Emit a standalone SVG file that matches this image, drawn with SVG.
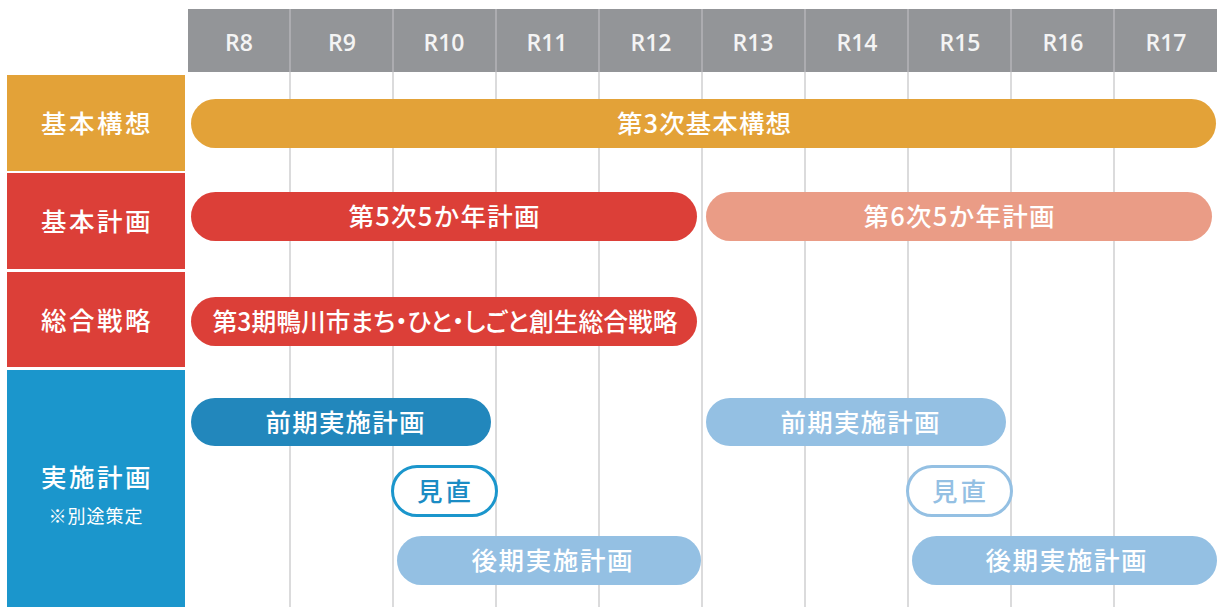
<svg xmlns="http://www.w3.org/2000/svg" width="1217" height="607" viewBox="0 0 1217 607">
<style>
.grid{stroke:#cfcfd0;stroke-width:1.5}
.hdiv{stroke:#b4b5b8;stroke-width:1.5}
.yr{font-family:"Open Sans","Noto Sans",sans-serif;font-weight:600;font-size:23px;fill:#f4f4f4;text-anchor:middle}
.cat{font-family:"Noto Sans CJK JP",sans-serif;font-weight:500;font-size:25.5px;fill:#fff;text-anchor:middle;letter-spacing:2.5px}
.note{font-family:"Noto Sans CJK JP",sans-serif;font-weight:400;font-size:18px;fill:#fff;text-anchor:middle;letter-spacing:1px}
.bl{font-family:"Noto Sans CJK JP",sans-serif;font-weight:500;font-size:25.5px;fill:#fff;text-anchor:middle}
</style>
<rect width="1217" height="607" fill="#fff"/>
<g id="header">
<rect x="188" y="9" width="1029" height="63" fill="#939598"/>
<g class="hdiv">
<line x1="290" y1="9" x2="290" y2="72"/><line x1="393" y1="9" x2="393" y2="72"/><line x1="496" y1="9" x2="496" y2="72"/><line x1="599" y1="9" x2="599" y2="72"/><line x1="702" y1="9" x2="702" y2="72"/><line x1="805" y1="9" x2="805" y2="72"/><line x1="908" y1="9" x2="908" y2="72"/><line x1="1011" y1="9" x2="1011" y2="72"/><line x1="1114" y1="9" x2="1114" y2="72"/>
</g>
<text class="yr" x="239" y="51">R8</text>
<text class="yr" x="342" y="51">R9</text>
<text class="yr" x="444" y="51">R10</text>
<text class="yr" x="547" y="51">R11</text>
<text class="yr" x="651" y="51">R12</text>
<text class="yr" x="753" y="51">R13</text>
<text class="yr" x="857" y="51">R14</text>
<text class="yr" x="960" y="51">R15</text>
<text class="yr" x="1063" y="51">R16</text>
<text class="yr" x="1166" y="51">R17</text>
</g>
<g id="grid" class="grid">
<line x1="290" y1="72" x2="290" y2="607"/><line x1="393" y1="72" x2="393" y2="607"/><line x1="496" y1="72" x2="496" y2="607"/><line x1="599" y1="72" x2="599" y2="607"/><line x1="702" y1="72" x2="702" y2="607"/><line x1="805" y1="72" x2="805" y2="607"/><line x1="908" y1="72" x2="908" y2="607"/><line x1="1011" y1="72" x2="1011" y2="607"/><line x1="1114" y1="72" x2="1114" y2="607"/>
</g>
<g id="cat-kihonkoso">
<rect x="7" y="75" width="178" height="96" fill="#e3a238"/>
<text class="cat" x="97" y="133">基本構想</text>
</g>
<g id="cat-kihonkeikaku">
<rect x="7" y="173" width="178" height="96" fill="#dc3f38"/>
<text class="cat" x="97" y="231">基本計画</text>
</g>
<g id="cat-sogosenryaku">
<rect x="7" y="272" width="178" height="95" fill="#dc3f38"/>
<text class="cat" x="97" y="330">総合戦略</text>
</g>
<g id="cat-jisshikeikaku">
<rect x="7" y="370" width="178" height="237" fill="#1b96cc"/>
<text class="cat" x="97" y="487">実施計画</text>
<text class="note" x="96" y="523">※別途策定</text>
</g>
<g id="bar-koso3">
<rect x="191" y="99" width="1025" height="49" rx="24.5" fill="#e3a238"/>
<text class="bl" x="704" y="133" textLength="174" lengthAdjust="spacing">第3次基本構想</text>
</g>
<g id="bar-keikaku5">
<rect x="191" y="192" width="506" height="49" rx="24.5" fill="#dc3f38"/>
<text class="bl" x="444" y="226" textLength="191" lengthAdjust="spacing">第5次5か年計画</text>
</g>
<g id="bar-keikaku6">
<rect x="706" y="192" width="506" height="49" rx="24.5" fill="#ea9c86"/>
<text class="bl" x="959" y="226" textLength="191" lengthAdjust="spacing">第6次5か年計画</text>
</g>
<g id="bar-senryaku3">
<rect x="191" y="297" width="506" height="49" rx="24.5" fill="#dc3f38"/>
<text class="bl" x="445" y="331" style="font-feature-settings:'palt'" textLength="465" lengthAdjust="spacingAndGlyphs">第3期鴨川市まち・ひと・しごと創生総合戦略</text>
</g>
<g id="bar-zenki1">
<rect x="191" y="398" width="300" height="48" rx="24" fill="#2287bc"/>
<text class="bl" x="345" y="432" textLength="159" lengthAdjust="spacing">前期実施計画</text>
</g>
<g id="pill-minaoshi1">
<rect x="392.5" y="466.5" width="104" height="49" rx="24.5" fill="#fff" stroke="#1b96cc" stroke-width="3"/>
<text class="bl" x="444" y="501" style="fill:#1b8cc4" textLength="54" lengthAdjust="spacing">見直</text>
</g>
<g id="bar-koki1">
<rect x="397" y="536" width="304" height="49" rx="24.5" fill="#94c0e3"/>
<text class="bl" x="552" y="570" textLength="161" lengthAdjust="spacing">後期実施計画</text>
</g>
<g id="bar-zenki2">
<rect x="706" y="398" width="300" height="48" rx="24" fill="#94c0e3"/>
<text class="bl" x="860" y="432" textLength="159" lengthAdjust="spacing">前期実施計画</text>
</g>
<g id="pill-minaoshi2">
<rect x="907.5" y="466.5" width="104" height="49" rx="24.5" fill="#fff" stroke="#94c0e3" stroke-width="3"/>
<text class="bl" x="959" y="501" style="fill:#94c0e3" textLength="54" lengthAdjust="spacing">見直</text>
</g>
<g id="bar-koki2">
<rect x="912" y="536" width="305" height="49" rx="24.5" fill="#94c0e3"/>
<text class="bl" x="1066" y="570" textLength="161" lengthAdjust="spacing">後期実施計画</text>
</g>
<g id="connectors"></g>
</svg>
